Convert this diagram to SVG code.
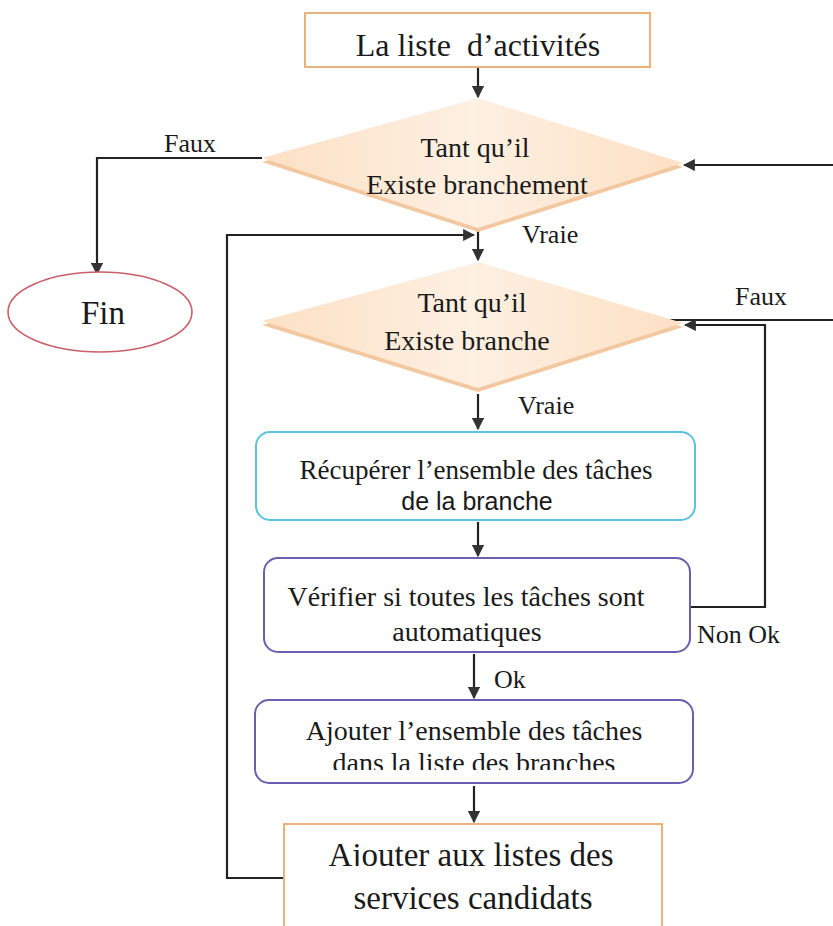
<svg xmlns="http://www.w3.org/2000/svg" width="833" height="926" viewBox="0 0 833 926">
  <style>
    .t { font-family: "Liberation Serif", "DejaVu Serif", serif; fill: #1a1a1a; text-anchor: middle; }
    .s { font-family: "Liberation Sans", "Open Sans", sans-serif; fill: #1a1a1a; text-anchor: middle; }
    .lbl { font-family: "Liberation Serif", "DejaVu Serif", serif; fill: #1a1a1a; font-size: 26px; }
    .wire { fill: none; stroke: #222; stroke-width: 2.2; }
    .orange { fill: #fff; stroke: #e8b27a; stroke-width: 2; }
    .cyan { fill: #fff; stroke: #5cc3dc; stroke-width: 2; }
    .purple { fill: #fff; stroke: #6a5fae; stroke-width: 2; }
    .dia { fill: url(#peach); }
    .dia-shadow { fill: #f3c8a0; }
  </style>
  <defs>
    <linearGradient id="peach" x1="0" y1="0" x2="1" y2="0">
      <stop offset="0" stop-color="#fce0c4"/>
      <stop offset="0.5" stop-color="#fef0e2"/>
      <stop offset="1" stop-color="#fce0c4"/>
    </linearGradient>
    <marker id="arr" viewBox="0 0 10 10" refX="9" refY="5" markerWidth="5.5" markerHeight="5.5" orient="auto" markerUnits="strokeWidth">
      <path d="M0,0 L10,5 L0,10 z" fill="#333"/>
    </marker>
    <!-- lower text lines are cut off inside their boxes -->
    <clipPath id="cut-branches"><rect x="250" y="700" width="450" height="70"/></clipPath>
    <clipPath id="cut-listes"><rect x="280" y="824" width="390" height="42"/></clipPath>
  </defs>

  <rect width="833" height="926" fill="#fff"/>

  <!-- connectors -->
  <g id="connectors">
    <line class="wire" x1="478" y1="67" x2="478" y2="97" marker-end="url(#arr)"/>
    <polyline class="wire" points="262,158 97,158 97,274" marker-end="url(#arr)"/>
    <line class="wire" x1="833" y1="165" x2="684" y2="165" marker-end="url(#arr)"/>
    <line class="wire" x1="478" y1="228" x2="478" y2="260" marker-end="url(#arr)"/>
    <polyline class="wire" points="284,878 227,878 227,235 474,235" marker-end="url(#arr)"/>
    <line class="wire" x1="664" y1="320" x2="833" y2="320"/>
    <polyline class="wire" points="690,607 765,607 765,325 685,325" marker-end="url(#arr)"/>
    <line class="wire" x1="478" y1="394" x2="478" y2="429" marker-end="url(#arr)"/>
    <line class="wire" x1="478" y1="522" x2="478" y2="556" marker-end="url(#arr)"/>
    <line class="wire" x1="474" y1="654" x2="474" y2="698" marker-end="url(#arr)"/>
    <line class="wire" x1="474" y1="786" x2="474" y2="822" marker-end="url(#arr)"/>
  </g>

  <!-- labels on connectors -->
  <g id="edge-labels">
    <text class="lbl" x="164" y="152">Faux</text>
    <text class="lbl" x="522" y="243">Vraie</text>
    <text class="lbl" x="735" y="305">Faux</text>
    <text class="lbl" x="518" y="414">Vraie</text>
    <text class="lbl" x="697" y="643">Non Ok</text>
    <text class="lbl" x="494" y="688">Ok</text>
  </g>

  <g id="liste-activites">
    <rect class="orange" x="305" y="13" width="345" height="54"/>
    <text class="t" x="478" y="56" font-size="32" xml:space="preserve">La liste  d’activités</text>
  </g>

  <g id="tant-qu-il-branchement">
    <polygon class="dia-shadow" points="478,101 683,167 478,232 262,162"/>
    <polygon class="dia" points="478,98 683,163 478,228 262,158"/>
    <text class="t" x="475" y="157" font-size="28">Tant qu’il</text>
    <text class="t" x="477" y="194" font-size="28">Existe branchement</text>
  </g>

  <g id="fin">
    <ellipse cx="100" cy="312" rx="92" ry="40" fill="#fff" stroke="#c8606a" stroke-width="1.6"/>
    <text class="t" x="103" y="324" font-size="33">Fin</text>
  </g>

  <g id="tant-qu-il-branche">
    <polygon class="dia-shadow" points="478,265 683,327 478,392 262,325"/>
    <polygon class="dia" points="478,262 683,323 478,388 262,321"/>
    <text class="t" x="472" y="312" font-size="28">Tant qu’il</text>
    <text class="t" x="467" y="350" font-size="28">Existe branche</text>
  </g>

  <g id="recuperer">
    <rect class="cyan" x="256" y="432" width="439" height="88" rx="14"/>
    <text class="t" x="476" y="479" font-size="27">Récupérer l’ensemble des tâches</text>
    <text class="s" x="477" y="510" font-size="25">de la branche</text>
  </g>

  <g id="verifier">
    <rect class="purple" x="264" y="558" width="426" height="94" rx="14"/>
    <text class="t" x="466" y="606" font-size="28">Vérifier si toutes les tâches sont</text>
    <text class="t" x="467" y="641" font-size="28">automatiques</text>
  </g>

  <g id="ajouter-ensemble">
    <rect class="purple" x="255" y="700" width="438" height="83" rx="14"/>
    <text class="t" x="474" y="740" font-size="28">Ajouter l’ensemble des tâches</text>
    <text class="t" x="474" y="772" font-size="28" clip-path="url(#cut-branches)">dans la liste des branches</text>
  </g>

  <g id="ajouter-listes">
    <rect class="orange" x="284" y="824" width="378" height="110"/>
    <text class="t" x="471" y="866" font-size="33" clip-path="url(#cut-listes)">Ajouter aux listes des</text>
    <text class="t" x="473" y="909" font-size="33">services candidats</text>
  </g>
</svg>
